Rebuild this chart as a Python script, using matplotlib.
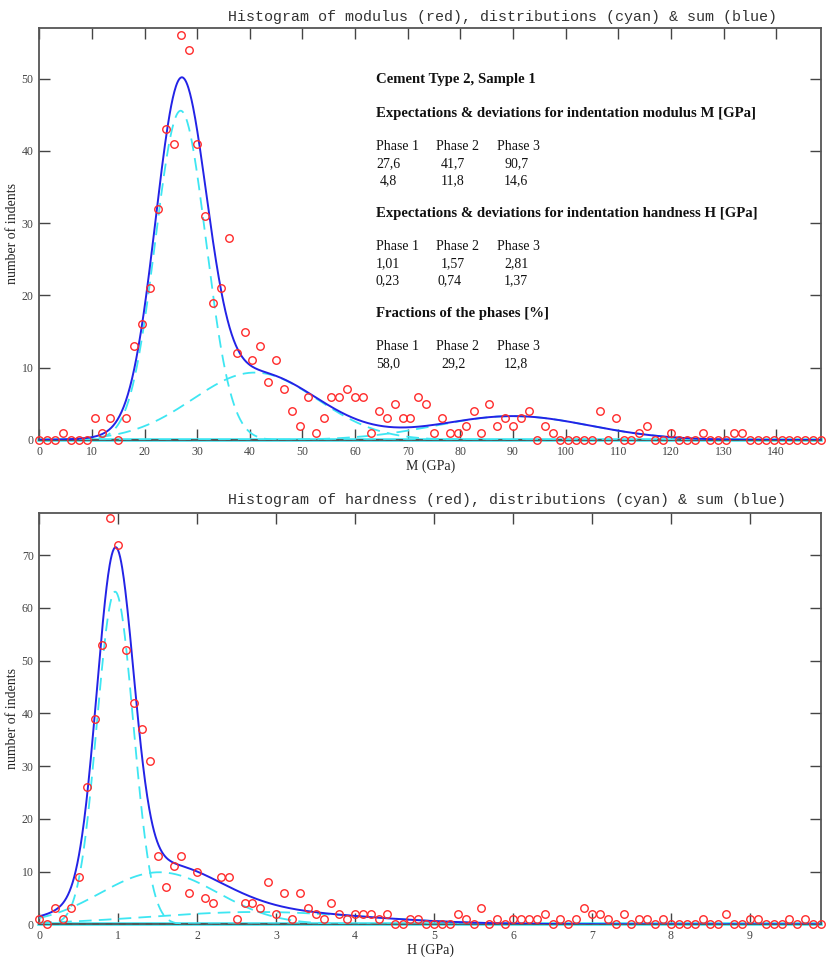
import numpy as np
import matplotlib
matplotlib.use('Agg')
import matplotlib.pyplot as plt

# ---------------- data ----------------
m_bin = 1.5
m_counts = [0, 0, 0, 1, 0, 0, 0, 3, 1, 3,
            0, 3, 13, 16, 21, 32, 43, 41, 56, 54,
            41, 31, 19, 21, 28, 12, 15, 11, 13, 8,
            11, 7, 4, 2, 6, 1, 3, 6, 6, 7,
            6, 6, 1, 4, 3, 5, 3, 3, 6, 5,
            1, 3, 1, 1, 2, 4, 1, 5, 2, 3,
            2, 3, 4, 0, 2, 1, 0, 0, 0, 0,
            0, 4, 0, 3, 0, 0, 1, 2, 0, 0,
            1, 0, 0, 0, 1, 0, 0, 0, 1, 1,
            0, 0, 0, 0, 0, 0, 0, 0, 0, 0]
m_means = [27.6, 41.7, 90.7]
m_stds = [4.8, 11.8, 14.6]

h_bin = 0.1
h_counts = [1, 0, 3, 1, 3, 9, 26, 39, 53, 77,
            72, 52, 42, 37, 31, 13, 7, 11, 13, 6,
            10, 5, 4, 9, 9, 1, 4, 4, 3, 8,
            2, 6, 1, 6, 3, 2, 1, 4, 2, 1,
            2, 2, 2, 1, 2, 0, 0, 1, 1, 0,
            0, 0, 0, 2, 1, 0, 3, 0, 1, 0,
            1, 1, 1, 1, 2, 0, 1, 0, 1, 3,
            2, 2, 1, 0, 2, 0, 1, 1, 0, 1,
            0, 0, 0, 0, 1, 0, 0, 2, 0, 0,
            1, 1, 0, 0, 0, 1, 0, 1, 0, 0]
h_means = [1.01, 1.57, 2.81]
h_stds = [0.23, 0.74, 1.37]

fractions = [58.0, 29.2, 12.8]

m_xticks = list(range(0, 141, 10))
m_yticks = list(range(0, 51, 10))
h_xticks = list(range(0, 10))
h_yticks = list(range(0, 71, 10))

title_m = "Histogram of modulus (red), distributions (cyan) & sum (blue)"
title_h = "Histogram of hardness (red), distributions (cyan) & sum (blue)"

# ---------------- style ----------------
W, H = 826, 957
RED = '#ff2a2a'
BLUE = '#2323e6'
CYAN = '#3ee6f2'
SPINE = '#555555'
SERIF = ['Liberation Serif', 'DejaVu Serif']
MONO = ['Liberation Mono', 'DejaVu Sans Mono']

fig = plt.figure(figsize=(W / 100, H / 100), dpi=100)


def fx(px):
    return px / W


def fy(py):
    return 1 - py / H


def gauss(x, mu, sd):
    return np.exp(-0.5 * ((x - mu) / sd) ** 2) / (sd * np.sqrt(2 * np.pi))


def panel(rect, counts, bw, means, stds, xticks, yticks, xlabel):
    ax = fig.add_axes(rect)
    counts = np.asarray(counts, dtype=float)
    xs = np.arange(len(counts)) * bw
    n_total = counts.sum()
    xmax = xs[-1]
    ymax = counts.max() + 1
    ax.set_xlim(0, xmax)
    ax.set_ylim(0, ymax)

    xg = np.linspace(0, xmax, 1500)
    total = np.zeros_like(xg)
    comps = []
    for mu, sd, fr in zip(means, stds, fractions):
        c = n_total * fr / 100.0 * bw * gauss(xg + bw / 2, mu, sd)
        comps.append(c)
        total += c

    ax.axhline(0, color=CYAN, lw=2.6, zorder=2, clip_on=False)
    ax.axhline(0, color='#555555', lw=1.2, ls=(0, (4, 4)), zorder=2.5, clip_on=False)
    for c in comps:
        ax.plot(xg, c, color=CYAN, lw=1.3, ls=(0, (7, 4)), zorder=3)
    ax.plot(xg, total, color=BLUE, lw=1.4, zorder=4)
    ax.plot(xs, counts, ls='none', marker='o', ms=5.4, mfc='none',
            mec=RED, mew=1.0, zorder=5, clip_on=False)

    ax.set_xticks(xticks)
    ax.set_yticks(yticks)
    ax.tick_params(direction='in', length=8, width=1.0, color='#444444',
                   top=True, right=True, labelsize=8.5, labelcolor='#444444', pad=4)
    for lab in ax.get_xticklabels() + ax.get_yticklabels():
        lab.set_family(SERIF)
    for s in ax.spines.values():
        s.set_color(SPINE)
        s.set_linewidth(1.3)
    ax.set_xlabel(xlabel, family=SERIF, fontsize=10, labelpad=1.5, color='#222222')
    ax.set_ylabel('number of indents', family=SERIF, fontsize=10, labelpad=2, color='#222222')
    return ax


L, R = 39.3, 821.0
ax1 = panel([fx(L), fy(440), fx(R) - fx(L), fy(28) - fy(440)],
            m_counts, m_bin, m_means, m_stds, m_xticks, m_yticks, 'M (GPa)')
ax2 = panel([fx(L), fy(924.3), fx(R) - fx(L), fy(513) - fy(924.3)],
            h_counts, h_bin, h_means, h_stds, h_xticks, h_yticks, 'H (GPa)')

fig.text(fx(228), fy(17), title_m, family=MONO, fontsize=10.8, va='center', ha='left', color='#333333')
fig.text(fx(228), fy(500), title_h, family=MONO, fontsize=10.8, va='center', ha='left', color='#333333')

# ---------------- annotation text block ----------------
def fmt(v, nd):
    return f"{v:.{nd}f}".replace('.', ',')


tx = 376
cols_head = [376, 436.5, 497]
cols_val = [376, 441, 504]


def line(y, s, bold=False, x=tx):
    fig.text(fx(x), fy(y), s, family=SERIF, fontsize=10.6 if bold else 10,
             va='center', ha='left',
             fontweight='bold' if bold else 'normal', color='#111111')


line(80, 'Cement Type 2, Sample 1', bold=True)
line(114, 'Expectations & deviations for indentation modulus M [GPa]', bold=True)
for i in range(3):
    line(147, f'Phase {i + 1}', x=cols_head[i])
    line(164, fmt(m_means[i], 1), x=cols_val[i] if i else 376)
    line(181, fmt(m_stds[i], 1), x=cols_val[i] if i else 380)
line(214, 'Expectations & deviations for indentation handness H [GPa]', bold=True)
for i in range(3):
    line(247, f'Phase {i + 1}', x=cols_head[i])
    line(264, fmt(h_means[i], 2), x=cols_val[i] if i else 376)
    line(281, fmt(h_stds[i], 2), x=(cols_val[i] if i != 1 else 438) if i else 376)
line(314, 'Fractions of the phases [%]', bold=True)
for i in range(3):
    line(347, f'Phase {i + 1}', x=cols_head[i])
    line(364, fmt(fractions[i], 1), x=cols_val[i] if i else 376)

fig.savefig('out.png', dpi=100)
